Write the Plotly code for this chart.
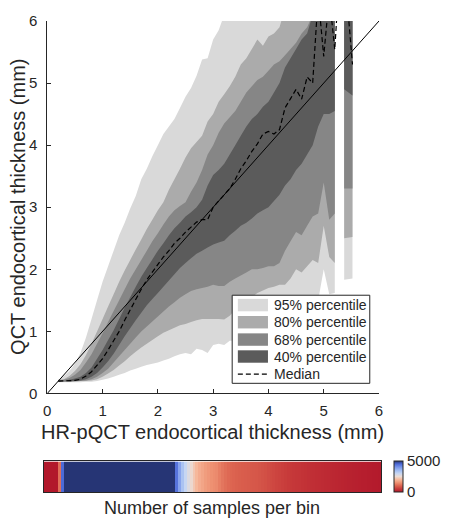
import plotly.graph_objects as go

# ---------------- data ----------------
thick = [0.2,0.3,0.4,0.5,0.6,0.7,0.8,0.9,1.0,1.1,1.2,1.3,1.4,1.5,1.6,1.7,1.8,1.9,2.0,
         2.1,2.2,2.3,2.4,2.5,2.6,2.7,2.8,2.9,3.0,3.1,3.2,3.3,3.4,3.5,3.6,3.7,3.8,3.9,4.0,
         4.1,4.2,4.3,4.4,4.5,4.6,4.7,4.8,4.9,5.0,5.1,5.2,5.3,5.37,5.52]

median = [0.2,0.2,0.2,0.21,0.23,0.28,0.35,0.45,0.56,0.7,0.85,1.0,1.18,1.35,1.52,1.68,1.83,1.96,2.08,
          2.2,2.3,2.42,2.5,2.6,2.68,2.76,2.8,2.8,3.0,3.1,3.2,3.3,3.45,3.62,3.75,3.9,4.02,4.18,4.22,
          4.18,4.25,4.6,4.75,4.9,4.74,5.1,5.0,6.4,5.43,6.4,5.54,7.0,6.9,5.3]

p2_5 = [0.18,0.18,0.18,0.18,0.18,0.19,0.19,0.2,0.22,0.24,0.27,0.3,0.33,0.37,0.4,0.43,0.46,0.48,0.5,
        0.53,0.56,0.6,0.63,0.65,0.63,0.72,0.7,0.65,0.78,0.8,0.78,0.85,0.85,0.9,0.95,0.95,1.0,1.0,1.05,
        1.1,1.1,1.15,1.2,1.25,1.3,1.35,1.45,1.5,2.0,1.6,1.62,None,1.83,1.85]
p10 = [0.19,0.19,0.19,0.19,0.2,0.2,0.21,0.23,0.27,0.32,0.38,0.45,0.52,0.6,0.67,0.74,0.8,0.86,0.92,
       0.98,1.02,1.06,1.1,1.12,1.15,1.18,1.2,1.2,1.2,1.2,1.19,1.25,1.35,1.42,1.5,1.55,1.62,1.66,1.7,
       1.72,1.75,1.75,1.85,2.0,1.95,2.05,2.15,2.1,2.7,2.2,2.1,None,2.5,2.52]
p16 = [0.19,0.19,0.19,0.2,0.2,0.21,0.23,0.27,0.33,0.4,0.5,0.6,0.7,0.8,0.9,1.0,1.08,1.16,1.24,
       1.32,1.4,1.47,1.54,1.6,1.65,1.68,1.7,1.72,1.75,1.73,1.73,1.8,1.85,1.9,1.95,2.0,2.0,2.02,2.05,
       2.05,2.1,2.3,2.45,2.6,2.55,2.7,2.85,2.9,3.4,2.8,2.9,None,3.3,3.3]
p30 = [0.19,0.2,0.2,0.2,0.21,0.23,0.27,0.33,0.42,0.52,0.64,0.78,0.92,1.05,1.18,1.3,1.42,1.52,1.62,
       1.72,1.82,1.92,2.02,2.1,2.18,2.25,2.3,2.35,2.4,2.43,2.46,2.55,2.62,2.7,2.75,2.82,2.9,2.95,3.0,
       3.1,3.2,3.35,3.45,3.6,3.7,3.85,4.0,4.3,4.5,4.5,4.55,None,4.9,4.8]
p70 = [0.21,0.21,0.22,0.24,0.27,0.33,0.42,0.56,0.7,0.86,1.02,1.2,1.38,1.55,1.72,1.88,2.02,2.16,2.3,
       2.42,2.55,2.66,2.75,2.85,2.92,3.0,3.12,3.35,3.52,3.6,3.7,3.85,4.0,4.15,4.3,4.42,4.5,4.62,4.7,
       4.85,5.0,5.25,5.4,5.55,5.7,5.8,6.1,6.5,6.5,6.5,6.5,None,6.5,6.5]
p84 = [0.21,0.22,0.25,0.3,0.38,0.5,0.63,0.8,0.97,1.15,1.33,1.5,1.68,1.85,2.0,2.15,2.3,2.45,2.58,
       2.72,2.85,2.95,3.02,3.08,3.25,3.4,3.6,3.85,4.0,4.2,4.35,4.45,4.55,4.7,4.85,4.95,5.05,5.1,5.2,
       5.3,5.35,5.45,5.55,5.65,5.8,5.9,6.1,6.5,6.5,6.5,6.5,None,6.5,6.5]
p90 = [0.22,0.23,0.28,0.36,0.47,0.62,0.8,1.0,1.2,1.4,1.6,1.8,1.98,2.15,2.32,2.48,2.65,2.8,2.95,
       3.08,3.28,3.45,3.62,3.8,3.95,4.05,4.15,4.38,4.5,4.7,4.82,4.95,5.1,5.3,5.4,5.55,5.7,5.6,5.75,
       5.8,5.9,6.2,6.5,6.5,6.5,6.5,6.5,6.5,6.5,6.5,6.5,None,6.5,6.5]
p97_5 = [0.22,0.28,0.36,0.48,0.65,0.9,1.2,1.5,1.8,2.05,2.3,2.55,2.75,2.98,3.18,3.45,3.62,3.82,4.0,
         4.18,4.3,4.42,4.6,4.78,4.92,5.12,5.38,5.4,5.7,5.85,6.1,6.5,6.5,6.5,6.5,6.5,6.5,6.5,6.5,
         6.5,6.5,6.5,6.5,6.5,6.5,6.5,6.5,6.5,6.5,6.5,6.5,None,6.5,6.5]

identity = [0, 6]

band_names = ["95% percentile", "80% percentile", "68% percentile", "40% percentile"]
band_colors = ["#d9d9d9", "#ababab", "#868686", "#5b5b5b"]
bands = [(p2_5, p97_5), (p10, p90), (p16, p84), (p30, p70)]

# samples per bin (colour strip)
counts = ([0, 0, 0, 0, 0, 1100, 4500] +
          [6200, 7900, 9400, 10800, 11900, 12800, 13500, 14000, 14300, 14400, 14300, 14100,
           13800, 13400, 13000, 12500, 12000, 11500, 11000, 10500, 10000, 9600, 9200, 8800,
           8400, 8100, 7800, 7500, 7200, 6900, 6700, 6500, 6300, 6100, 5900, 5700, 5500, 5300, 5150] +
          [4400, 3800, 3350, 3000, 2700, 2450, 2200, 2000, 1850, 1750, 1650, 1580, 1500, 1460,
           1420, 1300, 1200, 1120, 1060, 1020, 990, 960, 940, 920, 900, 890, 870, 860, 850, 820,
           790, 760, 720, 690, 660, 620, 590, 560, 530, 500, 480, 460, 440, 420, 400, 380, 360,
           340, 330, 315, 300, 285, 270, 255, 240, 225, 210, 195, 180, 165, 150, 140, 130, 120,
           110, 95, 85, 75, 60, 50, 40, 30])
count_max = 5000
count_ticks = [0, 5000]

TXT = "#262626"
FONT = "Arial, Liberation Sans, sans-serif"

# ---------------- geometry (pixels -> paper) ----------------
W, H = 449, 522
L, R, T, B = 44, 383, 14, 492
def px(xp): return (xp - L) / (R - L)
def py(yp): return (B - yp) / (B - T)

fig = go.Figure()

# percentile bands: one quad per bin pair (gives the faint seams of the original)
for (lo, hi), name, col in zip(bands, band_names, band_colors):
    xs, ys = [], []
    for i in range(len(thick) - 1):
        if None in (lo[i], hi[i], lo[i + 1], hi[i + 1]):
            continue
        xs += [thick[i], thick[i + 1], thick[i + 1], thick[i], thick[i], None]
        ys += [lo[i], lo[i + 1], hi[i + 1], hi[i], lo[i], None]
    fig.add_trace(go.Scatter(x=xs, y=ys, fill="toself", fillcolor=col, mode="lines",
                             line=dict(width=0), name=name, hoverinfo="skip",
                             showlegend=False, xaxis="x", yaxis="y"))

fig.add_trace(go.Scatter(x=identity, y=identity, mode="lines",
                         line=dict(color="black", width=1), showlegend=False))
fig.add_trace(go.Scatter(x=thick, y=median, mode="lines", name="Median",
                         line=dict(color="black", width=1.2, dash="5px,3px"),
                         showlegend=False))

# colour strip
fig.add_trace(go.Heatmap(
    z=[counts], x=list(range(len(counts))), y=[0],
    xaxis="x2", yaxis="y2", zmin=0, zmax=count_max,
    colorscale=[[0.0, "#b2182b"], [0.1, "#c73a3a"], [0.2, "#dc6450"], [0.3, "#ee9172"],
                [0.4, "#f6b89b"], [0.5, "#ebdcd5"], [0.6, "#c6d6f3"], [0.7, "#9fbbf2"],
                [0.8, "#7895ea"], [0.9, "#4d6ad8"], [1.0, "#263575"]],
    showscale=True,
    colorbar=dict(x=px(396), xanchor="left", y=0, yanchor="bottom",
                  len=(492 - 461) / (B - T), lenmode="fraction", thickness=9,
                  outlinewidth=1, outlinecolor=TXT, tickvals=count_ticks,
                  ticks="", tickfont=dict(size=15, color=TXT, family=FONT),
                  xpad=0, ypad=0),
    hoverinfo="skip"))

axis_common = dict(showgrid=False, zeroline=False, showline=True, linecolor=TXT,
                   linewidth=1, ticks="inside", ticklen=4, tickcolor=TXT,
                   tickfont=dict(size=15, color=TXT, family=FONT))

fig.update_layout(
    width=W, height=H, autosize=False,
    margin=dict(l=L, r=W - R, t=T, b=H - B, pad=0),
    paper_bgcolor="white", plot_bgcolor="white",
    font=dict(family=FONT, color=TXT),
    xaxis=dict(domain=[px(47.3), px(381)], range=[0, 6], tickvals=[0, 1, 2, 3, 4, 5, 6],
               anchor="y", ticklabelstandoff=4, **axis_common),
    yaxis=dict(domain=[py(392), 1], range=[0, 6], tickvals=[0, 1, 2, 3, 4, 5, 6],
               anchor="x", ticklabelstandoff=6, **axis_common),
    xaxis2=dict(domain=[0, 1], range=[-0.5, len(counts) - 0.5], anchor="y2",
                showticklabels=False, ticks="", showline=True, mirror=True,
                linecolor=TXT, linewidth=1, showgrid=False, zeroline=False),
    yaxis2=dict(domain=[0, py(461)], range=[-0.5, 0.5], anchor="x2",
                showticklabels=False, ticks="", showline=True, mirror=True,
                linecolor=TXT, linewidth=1, showgrid=False, zeroline=False),
)

# axis titles
fig.add_annotation(text="HR-pQCT endocortical thickness (mm)", xref="paper", yref="paper",
                   x=px(213.3), y=py(431), xanchor="center", yanchor="middle",
                   showarrow=False, font=dict(size=20, color=TXT, family=FONT))
fig.add_annotation(text="QCT endocortical thickness (mm)", xref="paper", yref="paper",
                   x=px(18.5), y=py(203), xanchor="center", yanchor="middle", textangle=-90,
                   showarrow=False, font=dict(size=20, color=TXT, family=FONT))
fig.add_annotation(text="Number of samples per bin", xref="paper", yref="paper",
                   x=px(212.5), y=py(508), xanchor="center", yanchor="middle",
                   showarrow=False, font=dict(size=18, color=TXT, family=FONT))

# custom legend
fig.add_shape(type="rect", xref="paper", yref="paper", x0=px(233.3), x1=px(371.7),
              y0=py(381.7), y1=py(292.3), line=dict(color=TXT, width=1), fillcolor="white",
              layer="above")
rows = [302.3, 319.7, 337.3, 354.5]
for yc, name, col in zip(rows, band_names, band_colors):
    fig.add_shape(type="rect", xref="paper", yref="paper", x0=px(239), x1=px(269.3),
                  y0=py(yc + 6.3), y1=py(yc - 6.3), line=dict(width=0), fillcolor=col,
                  layer="above")
    fig.add_annotation(text=name, xref="paper", yref="paper", x=px(273), y=py(yc),
                       xanchor="left", yanchor="middle", showarrow=False,
                       font=dict(size=14, color=TXT, family=FONT))
fig.add_shape(type="line", xref="paper", yref="paper", x0=px(239), x1=px(269.3),
              y0=py(372.3), y1=py(372.3), line=dict(color="black", width=1.2, dash="5px,3px"),
              layer="above")
fig.add_annotation(text="Median", xref="paper", yref="paper", x=px(273), y=py(372.3),
                   xanchor="left", yanchor="middle", showarrow=False,
                   font=dict(size=14, color=TXT, family=FONT))

fig.write_html("out.html", config={"displayModeBar": False},
               post_script="document.body.style.margin='0';document.body.style.overflow='hidden';")
